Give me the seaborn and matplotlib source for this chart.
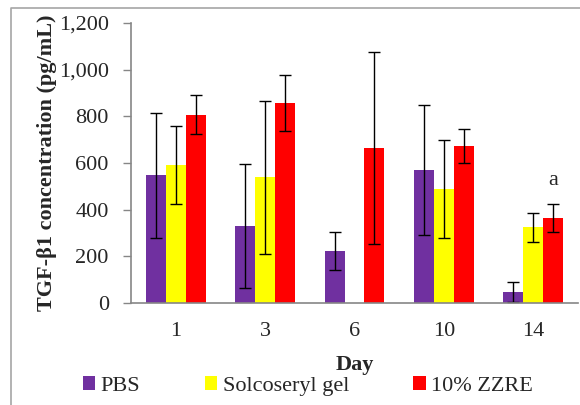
import numpy as np
import pandas as pd
import matplotlib
matplotlib.use("Agg")
import matplotlib.pyplot as plt
import seaborn as sns
from matplotlib.patches import Patch
from matplotlib.lines import Line2D

# Data
days = ["1", "3", "6", "10", "14"]
groups = ["PBS", "Solcoseryl gel", "10% ZZRE"]
pbs = [548, 330, 224, 569, 46]
solco = [591, 539, 0, 489, 324]  # no Solcoseryl bar on day 6
zzre = [807, 858, 666, 674, 363]
pbs_err = [268, 267, 81, 278, 43]
solco_err = [166, 328, np.nan, 211, 63]
zzre_err = [84, 121, 411, 72, 60]
colors = ["#7030A0", "#FFFF00", "#FF0000"]

df = pd.DataFrame({
    "Day": days * 3,
    "Group": [g for g in groups for _ in days],
    "Value": pbs + solco + zzre,
    "Err": pbs_err + solco_err + zzre_err,
})

sns.set_style("white")
plt.rcParams["font.family"] = ["Liberation Serif", "DejaVu Serif"]
fs = 16

fig = plt.figure(figsize=(5.8, 4.05), dpi=100)
ax = fig.add_axes([131 / 580, 1 - 303 / 405, 447 / 580, 280 / 405])

sns.barplot(data=df, x="Day", y="Value", hue="Group", order=days, hue_order=groups,
            palette=colors, saturation=1, width=0.67, linewidth=0, errorbar=None,
            legend=False, ax=ax)

# error bars on each bar, using the bar positions seaborn drew
for container, g in zip(ax.containers, groups):
    sub = df[df["Group"] == g].set_index("Day").loc[days]
    xs = np.array([p.get_x() + p.get_width() / 2 for p in container.patches])
    keep = sub["Err"].notna().values
    ax.errorbar(xs[keep], sub["Value"].values[keep], yerr=sub["Err"].values[keep],
                fmt="none", ecolor="black", elinewidth=1, capsize=4, capthick=1)

# significance letter over day 14 ZZRE
red_bar = ax.containers[2].patches[4]
ax.text(red_bar.get_x() + red_bar.get_width() / 2, 525, "a", ha="center", va="center",
        fontsize=fs)

ax.set_ylim(0, 1200)
ax.set_xlim(-0.5, 4.5)
ax.set_yticks(range(0, 1201, 200))
ax.set_yticklabels([f"{v:,}" for v in range(0, 1201, 200)], fontsize=fs)
ax.set_xticks(range(5))
ax.set_xticklabels(days, fontsize=fs)
ax.set_xticks(np.arange(-0.5, 5, 1), minor=True)
ax.tick_params(axis="x", which="major", length=0, pad=14)
ax.tick_params(axis="x", which="minor", length=5, color="#868686", width=1, direction="out")
ax.tick_params(axis="y", length=6, color="#868686", width=1, direction="out", left=True, pad=10)
ax.set_xlabel("Day", fontsize=fs, fontweight="bold", labelpad=10)
ax.set_ylabel("TGF-β1 concentration (pg/mL)", fontsize=fs, fontweight="bold", labelpad=1)
sns.despine(ax=ax)
for side in ["left", "bottom"]:
    ax.spines[side].set_color("#868686")
    ax.spines[side].set_linewidth(1.2)

handles = [Patch(facecolor=c, edgecolor="none", label=g) for c, g in zip(colors, groups)]
fig.legend(handles=handles, loc="center", bbox_to_anchor=(308 / 580, 1 - 386 / 405),
           ncol=3, frameon=False, fontsize=fs, handlelength=0.55, handleheight=0.55,
           handletextpad=0.25, columnspacing=2.9, borderaxespad=0)

# outer border (left and top only visible)
fig.add_artist(Line2D([11 / 580, 11 / 580, 1.0], [0, 1 - 8 / 405, 1 - 8 / 405],
                      transform=fig.transFigure, color="#a6a6a6", linewidth=1.2))

fig.savefig("out.png", dpi=100)
